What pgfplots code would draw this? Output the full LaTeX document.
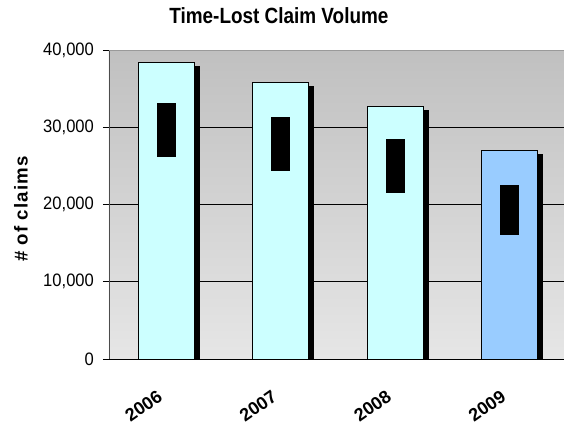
\documentclass[border=0pt]{standalone}
\usepackage{fontspec}
\setmainfont{Liberation Sans}
\newfontfamily\spacedbold[LetterSpace=6]{Liberation Sans}
\newfontfamily\narrowtitle[FakeStretch=0.86]{Liberation Sans}
\newfontfamily\narrowticks[FakeStretch=0.92]{Liberation Sans}
\usepackage{pgfplots}
\usepackage{pgfplotstable}
\pgfplotsset{compat=1.18}
\usetikzlibrary{shadows}

\definecolor{barcyan}{HTML}{CCFFFF}
\definecolor{barblue}{HTML}{99CCFF}
\definecolor{bgtop}{HTML}{C0C0C0}
\definecolor{bgbot}{HTML}{E6E6E6}
\definecolor{frame}{HTML}{9A9A9A}

% year index, total claims, low and high of the range box
\pgfplotstableread{
x year total low high
0 2006 38400 26200 33200
1 2007 35800 24400 31350
2 2008 32750 21500 28500
3 2009 27050 16100 22550
}\claims

\begin{document}
\begin{tikzpicture}
\begin{axis}[
  at={(0,0)}, anchor=south west,
  scale only axis,
  width=343.5pt, height=231.75pt,
  xmin=-0.5, xmax=3.5,
  ymin=0, ymax=40000,
  axis x line*=bottom,
  axis y line*=left,
  x axis line style={black, line width=0.6pt},
  y axis line style={black!70, line width=0.6pt},
  axis background/.style={top color=bgtop, bottom color=bgbot},
  xtick={0,1,2,3},
  xticklabels={2006,2007,2008,2009},
  major x tick style={draw=none},
  extra x ticks={-0.5,0.5,1.5,2.5,3.5},
  extra x tick labels={},
  extra x tick style={grid=none, major tick length=4.5pt, tick align=outside,
    tick style={black, line width=0.6pt}},
  xticklabel style={font=\bfseries\fontsize{13.5pt}{15pt}\selectfont,
    xshift=-6.6pt, yshift=-17.9pt, rotate=35, anchor=north east},
  ytick={0,10000,20000,30000,40000},
  scaled y ticks=false,
  /pgf/number format/assume math mode=true,
  /pgf/number format/1000 sep={,},
  yticklabel style={font=\narrowticks\fontsize{13.5pt}{15pt}\selectfont, xshift=-3.3pt},
  major y tick style={black, line width=0.6pt},
  major tick length=4.5pt,
  ytick align=outside,
  ymajorgrids,
  major grid style={black, line width=0.6pt},
  ylabel={\spacedbold\bfseries\fontsize{14pt}{16pt}\selectfont \# of claims},
  ylabel style={at={(axis description cs:-0.192,0.485)}, anchor=center},
  title={\narrowtitle\bfseries\fontsize{16.5pt}{18pt}\selectfont Time-Lost Claim Volume},
  title style={at={(axis description cs:0.371,1.0605)}, anchor=base},
]
% bars for 2006-2008
\addplot[ybar, bar width=42pt, bar shift=0pt, fill=barcyan, draw=black, line width=0.6pt,
  drop shadow={shadow xshift=3.75pt, shadow yshift=-3pt, fill=black, opacity=1},
  skip coords between index={3}{4}]
  table[x=x, y=total] {\claims};
% bar for 2009
\addplot[ybar, bar width=42pt, bar shift=0pt, fill=barblue, draw=black, line width=0.6pt,
  drop shadow={shadow xshift=3.75pt, shadow yshift=-3pt, fill=black, opacity=1},
  skip coords between index={0}{3}]
  table[x=x, y=total] {\claims};
% range boxes drawn as thick error bars from low to high
\addplot[draw=none, mark=none,
  error bars/.cd, y dir=both, y explicit, error mark=none,
  error bar style={line width=14pt, black}]
  table[x=x, y expr={(\thisrow{low}+\thisrow{high})/2},
    y error expr={(\thisrow{high}-\thisrow{low})/2}] {\claims};
\draw[frame, line width=0.8pt] (rel axis cs:0,1) -- (rel axis cs:1,1);
\end{axis}
\pgfresetboundingbox
\path (-81.75pt,-49.5pt) rectangle (341.25pt,269.25pt);
\end{tikzpicture}
\end{document}
